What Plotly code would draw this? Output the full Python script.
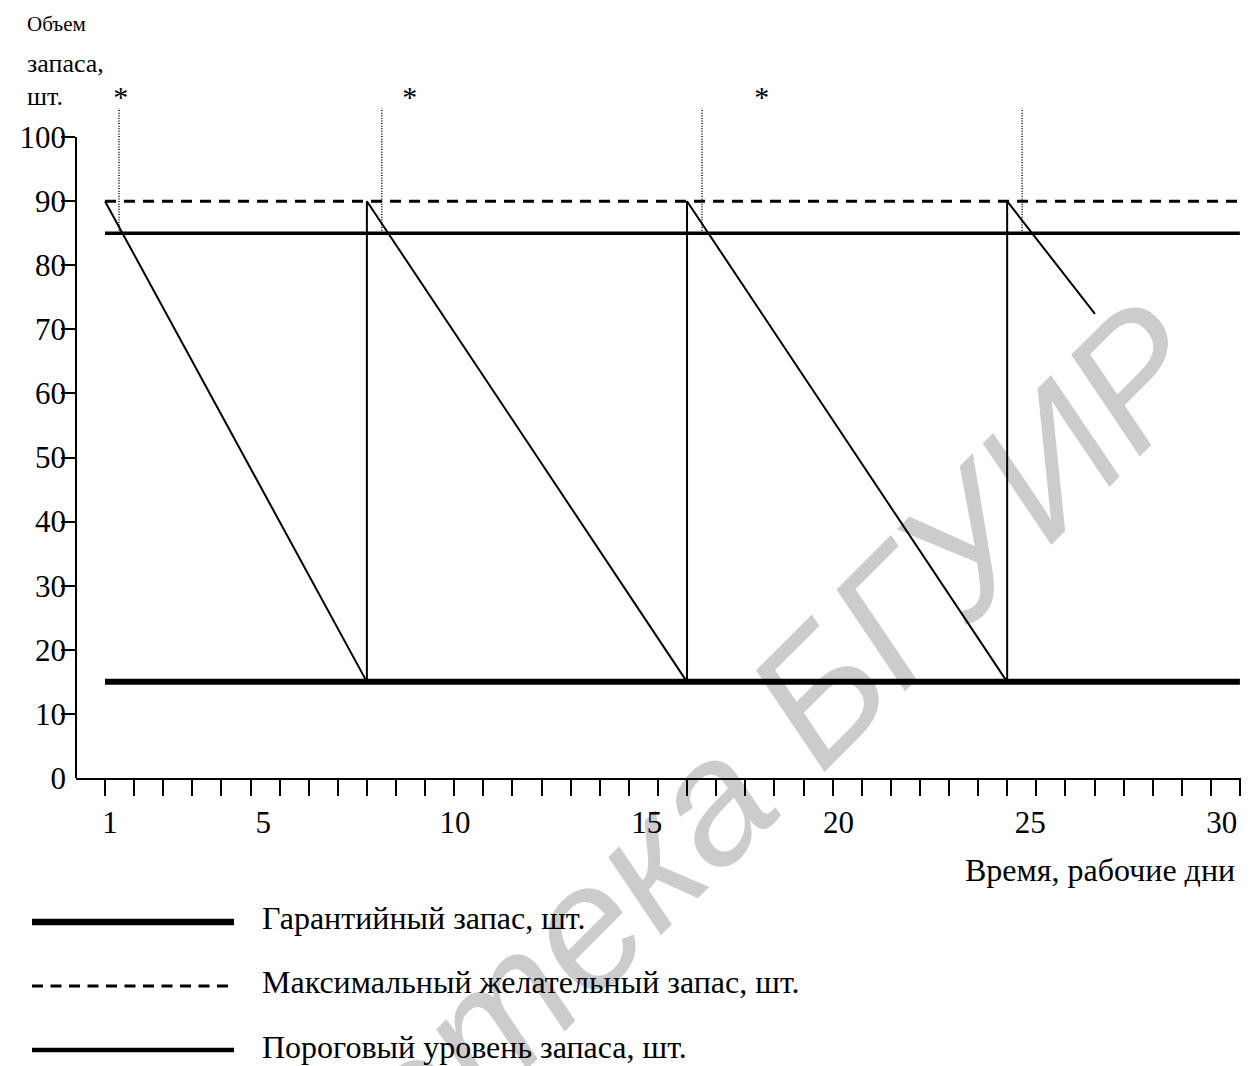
import plotly.graph_objects as go

# ---------------- data ----------------
day_ticks = [1, 5, 10, 15, 20, 25, 30]
level_ticks = [0, 10, 20, 30, 40, 50, 60, 70, 80, 90, 100]
level_marks = [10, 20, 30, 40, 50, 60, 70, 80, 90, 100]
minor_ticks = list(range(40))          # small marks along the time axis

stock_days = [0.87, 7.70, 7.70, 16.05, 16.05, 24.40, 24.40, 26.69]
stock_level = [90, 15, 90, 15, 90, 15, 90, 72.4]

level_days = [0.87, 30.47]
guarantee_level = 15
max_level = 90
threshold_level = 85

order_days = [1.235, 8.09, 16.44, 24.79]
order_top = 104.5
star_days = [1.28, 8.82, 18.0]
star_level = 105.8

legend_items = ["Гарантийный запас, шт.",
                "Максимальный желательный запас, шт.",
                "Пороговый уровень запаса, шт."]

# ---------------- layout geometry (page pixels) ----------------
PAGE_W, PAGE_H = 1255, 1066
OFF = 8                                  # default body margin of the html page
W, H = PAGE_W - OFF, PAGE_H - OFF
L, R, T, B = 68, 14, 65, 288
X_RANGE = [0.1132, 30.499]
X2_RANGE = [-0.9966, 39.03]
Y_RANGE = [0, 110]
PW, PH = W - L - R, H - T - B

def px(p):
    return (p - OFF - L) / PW

def py(p):
    return (H - B - (p - OFF)) / PH

FONT = "Liberation Serif, Times New Roman, serif"
BLACK = "#000000"

fig = go.Figure()

# guarantee stock
fig.add_trace(go.Scatter(x=level_days, y=[guarantee_level] * 2, mode="lines",
                         line=dict(color=BLACK, width=6), hoverinfo="skip"))
# threshold level
fig.add_trace(go.Scatter(x=level_days, y=[threshold_level] * 2, mode="lines",
                         line=dict(color=BLACK, width=3.3), hoverinfo="skip"))
# maximum desired stock
fig.add_trace(go.Scatter(x=level_days, y=[max_level] * 2, mode="lines",
                         line=dict(color=BLACK, width=3, dash="11px,8px"), hoverinfo="skip"))
# stock movement
fig.add_trace(go.Scatter(x=stock_days, y=stock_level, mode="lines",
                         line=dict(color=BLACK, width=2), hoverinfo="skip"))
# order moments (dotted)
dx, dy = [], []
for d in order_days:
    dx += [d, d, None]
    dy += [threshold_level, order_top, None]
fig.add_trace(go.Scatter(x=dx, y=dy, mode="lines",
                         line=dict(color=BLACK, width=1.5, dash="1px,1.6px"), hoverinfo="skip"))
# asterisks
fig.add_trace(go.Scatter(x=star_days, y=[star_level] * len(star_days), mode="text",
                         text=["*"] * len(star_days), textposition="middle center",
                         textfont=dict(family=FONT, size=30, color=BLACK),
                         cliponaxis=False, hoverinfo="skip"))
# carriers for the tick-mark axes
fig.add_trace(go.Scatter(x=minor_ticks, y=[0] * len(minor_ticks), xaxis="x2", mode="markers",
                         marker=dict(opacity=0), hoverinfo="skip"))
fig.add_trace(go.Scatter(x=[1] * len(level_marks), y=level_marks, yaxis="y2", mode="markers",
                         marker=dict(opacity=0), hoverinfo="skip"))

shapes = [
    # y-axis line (stops at 100)
    dict(type="line", xref="paper", yref="y", x0=0, x1=0, y0=0, y1=100,
         line=dict(color=BLACK, width=2)),
    # legend keys
    dict(type="line", xref="paper", yref="paper", x0=px(32), x1=px(234), y0=py(922), y1=py(922),
         line=dict(color=BLACK, width=6.5)),
    dict(type="line", xref="paper", yref="paper", x0=px(32), x1=px(234), y0=py(986), y1=py(986),
         line=dict(color=BLACK, width=3, dash="11px,7.5px")),
    dict(type="line", xref="paper", yref="paper", x0=px(32), x1=px(234), y0=py(1050), y1=py(1050),
         line=dict(color=BLACK, width=4.5)),
]

ann = []
def text(s, x, y, size, anchor="left", **kw):
    ann.append(dict(text=s, x=px(x), y=py(y), xref="paper", yref="paper",
                    xanchor=anchor, yanchor="middle", showarrow=False,
                    font=dict(family=FONT, size=size, color=BLACK), **kw))

text("Объем", 25, 23.5, 21)
text("запаса,", 25, 63.5, 26)
text("шт.", 25, 96.5, 26)
text("Время, рабочие дни", 1237, 870, 32, anchor="right")
for item, yy in zip(legend_items, [918, 982, 1047]):
    text(item, 260, yy, 32)

# library watermark
ann.append(dict(text="Библиотека БГУИР", x=px(598), y=py(912), xref="paper", yref="paper",
                xanchor="center", yanchor="middle", showarrow=False, textangle=-45,
                font=dict(family="Liberation Sans, Arial, sans-serif", size=175,
                          color="rgba(0,0,0,0.2)", style="italic")))

fig.update_layout(
    width=W, height=H,
    margin=dict(l=L, r=R, t=T, b=B, pad=0),
    plot_bgcolor="white", paper_bgcolor="white",
    showlegend=False,
    font=dict(family=FONT, color=BLACK),
    shapes=shapes,
    annotations=ann,
    xaxis=dict(range=X_RANGE, tickvals=day_ticks, ticktext=[str(v) for v in day_ticks],
               ticks="", showline=True, linecolor=BLACK, linewidth=2, showgrid=False,
               zeroline=False, tickfont=dict(family=FONT, size=31, color=BLACK),
               ticklabelstandoff=16, fixedrange=True),
    xaxis2=dict(range=X2_RANGE, overlaying="x", anchor="y", side="bottom",
                tickvals=minor_ticks, ticks="outside", ticklen=17, tickwidth=2,
                tickcolor=BLACK, showticklabels=False, showgrid=False, zeroline=False,
                showline=False, fixedrange=True),
    yaxis=dict(range=Y_RANGE, tickvals=level_ticks, ticks="", ticklen=0,
               showline=False, showgrid=False,
               zeroline=False, tickfont=dict(family=FONT, size=31, color=BLACK),
               ticklabelstandoff=9, fixedrange=True),
    yaxis2=dict(range=Y_RANGE, overlaying="y", anchor="x", side="left",
                tickvals=level_marks, ticks="outside", ticklen=14, tickwidth=1.5,
                tickcolor=BLACK, showticklabels=False, showgrid=False, zeroline=False,
                showline=False, fixedrange=True),
)

fig.write_html("out.html")
